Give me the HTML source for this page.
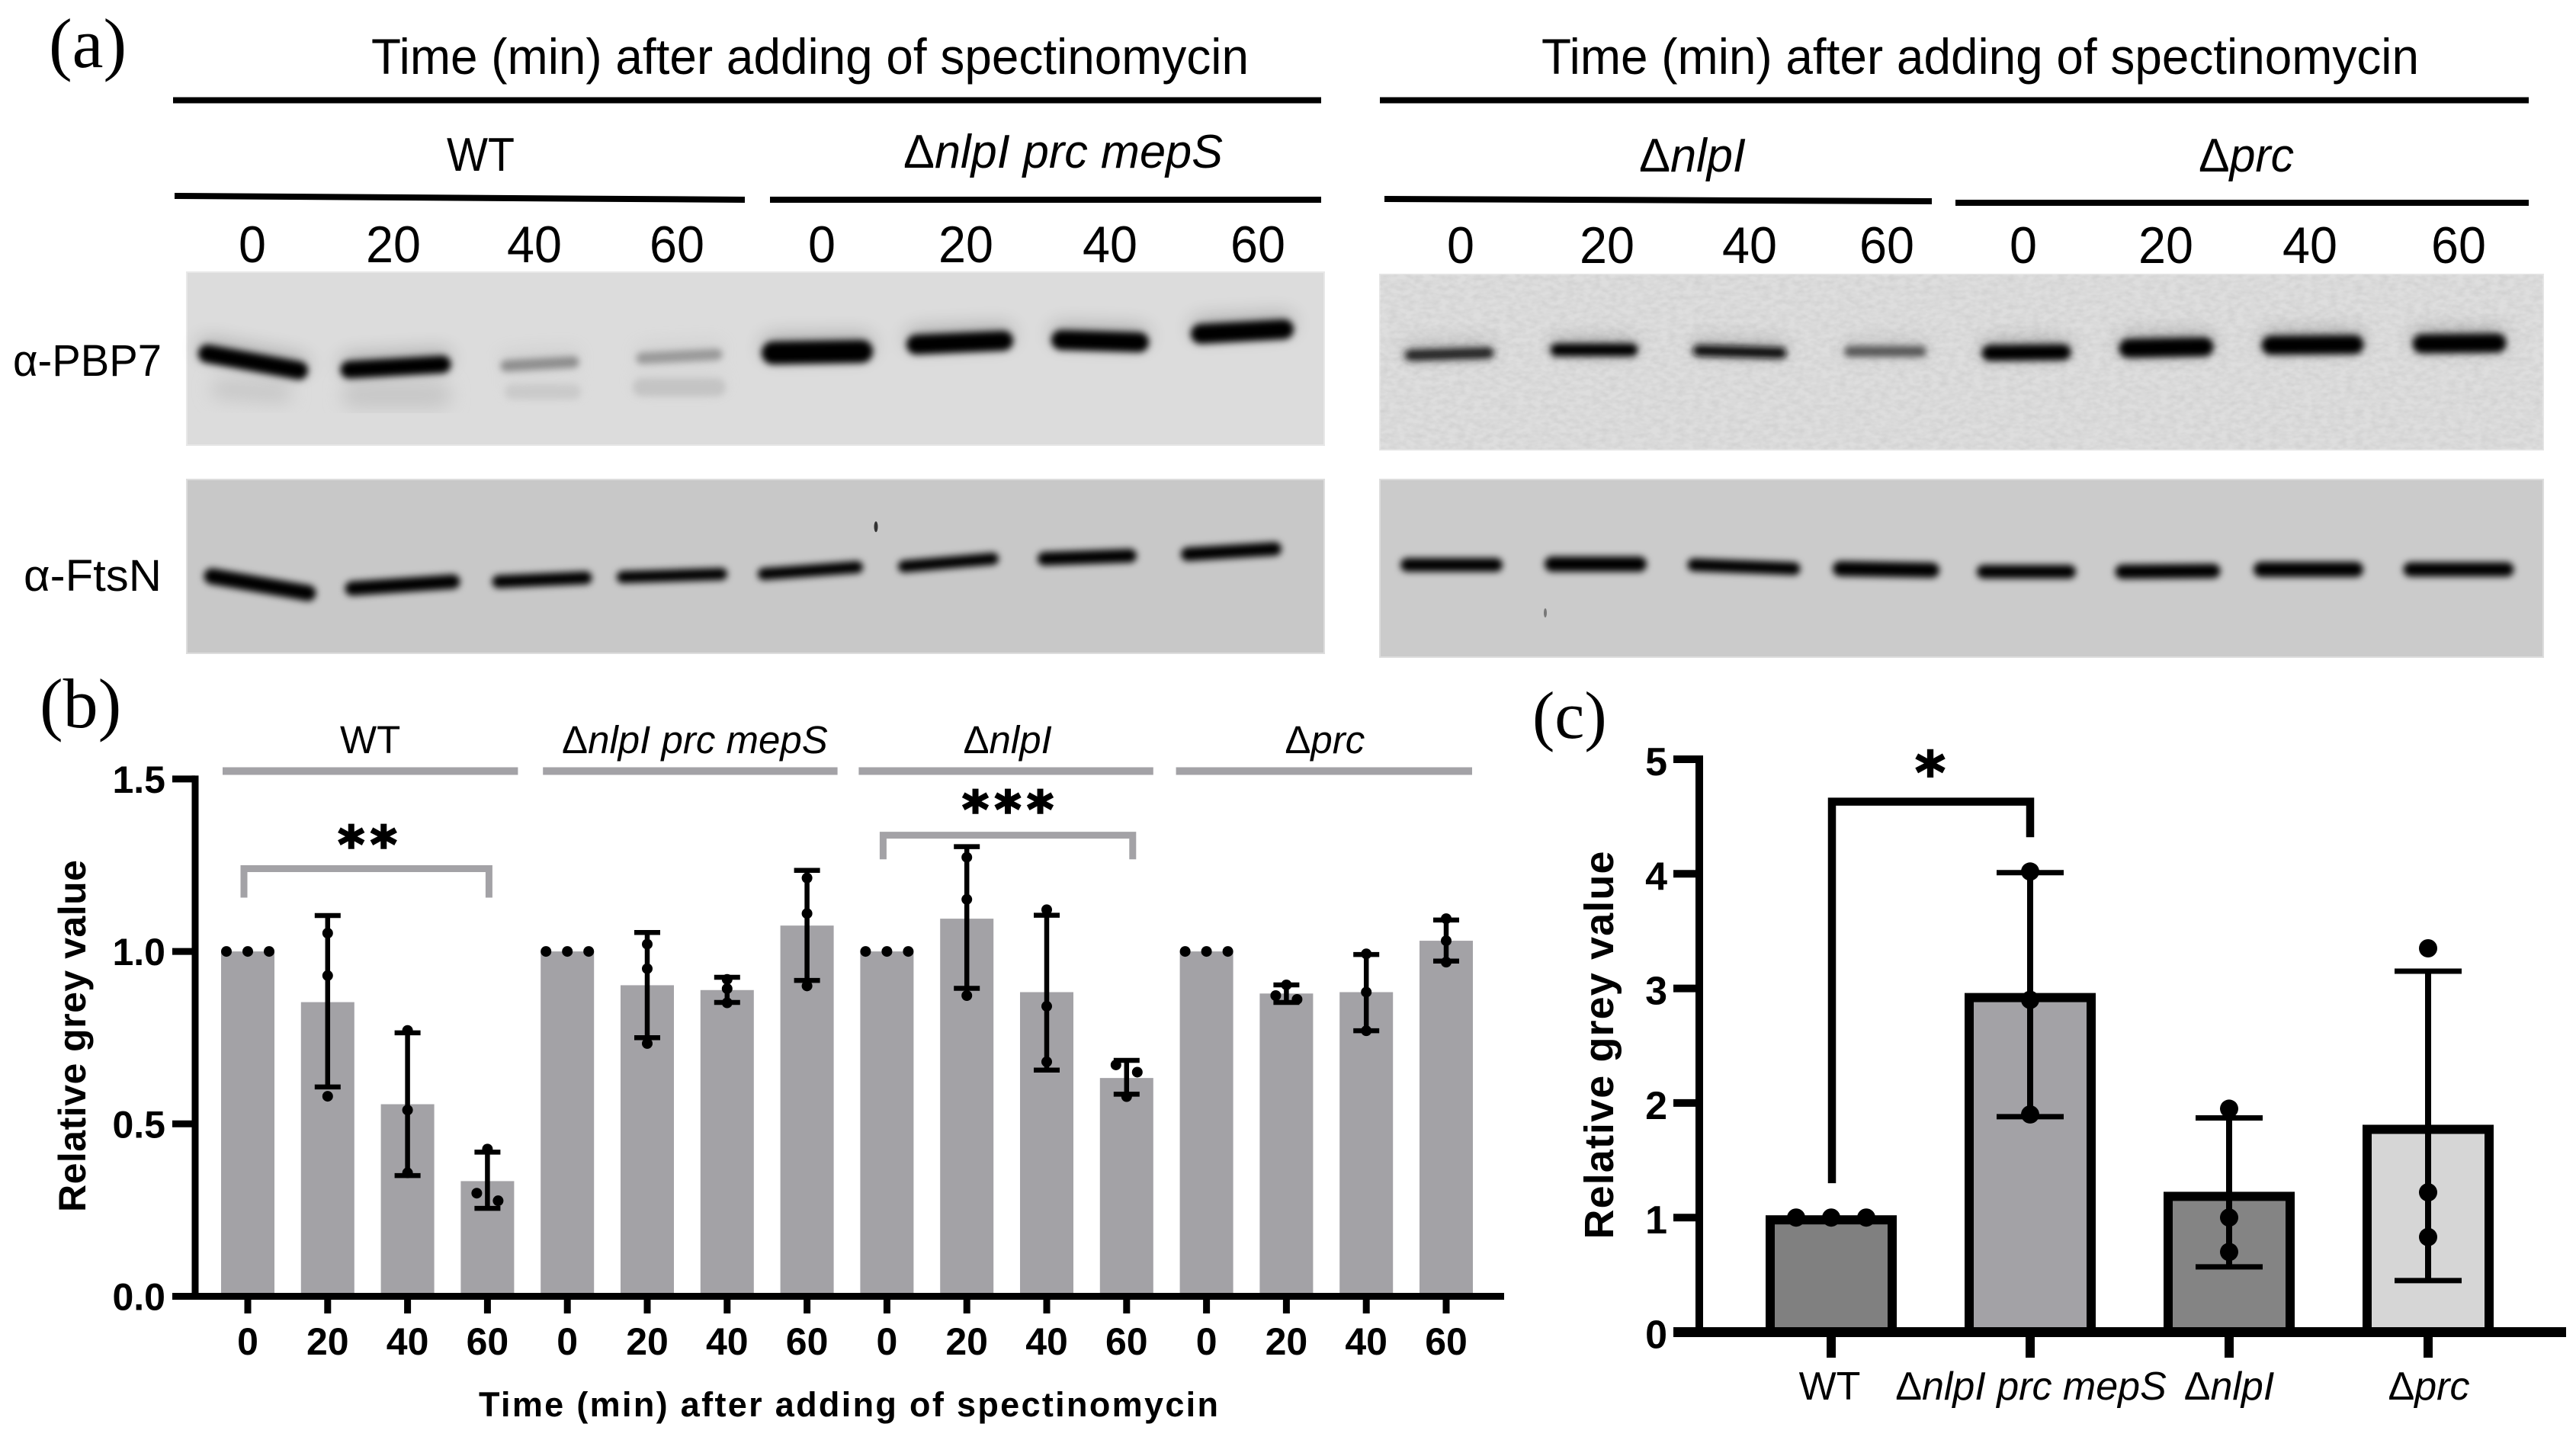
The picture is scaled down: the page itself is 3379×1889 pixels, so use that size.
<!DOCTYPE html>
<html lang="en">
<head>
<meta charset="utf-8">
<title>PBP7 stability after spectinomycin</title>
<style>
html,body{margin:0;padding:0;background:#fff;width:3379px;height:1889px;overflow:hidden}
svg{display:block}
text{font-family:"Liberation Sans",sans-serif;fill:#000}
.serif{font-family:"Liberation Serif",serif}
.b{font-weight:700}
.i{font-style:italic}
.rule{stroke:#000;stroke-width:8}
.band{fill:none;stroke-linecap:round}
</style>
</head>
<body>
<svg id="figure" xmlns="http://www.w3.org/2000/svg" width="3379" height="1889" viewBox="0 0 3379 1889">
<defs>
<filter id="blur" x="-20%" y="-200%" width="140%" height="500%"><feGaussianBlur stdDeviation="4.5"/></filter>
<filter id="haze" x="-20%" y="-300%" width="140%" height="700%"><feGaussianBlur stdDeviation="12"/></filter>
<filter id="grain" x="0" y="0" width="100%" height="100%"><feTurbulence type="fractalNoise" baseFrequency="0.09 0.16" numOctaves="2" seed="4"/><feColorMatrix values="0 0 0 0 0  0 0 0 0 0  0 0 0 0 0  0 0 0 0.1 -0.03"/></filter>
</defs>

<!-- Panel (a) -->
<g id="panel-a">
<text class="serif" x="64" y="88" font-size="92">(a)</text>

<text x="487" y="97" font-size="66" textLength="1151" lengthAdjust="spacingAndGlyphs">Time (min) after adding of spectinomycin</text>
<line class="rule" x1="227" y1="131.5" x2="1733" y2="131.5"/>
<text x="586" y="224" font-size="62" textLength="89" lengthAdjust="spacingAndGlyphs">WT</text>
<text x="1185" y="220" font-size="62" textLength="419" lengthAdjust="spacingAndGlyphs">Δ<tspan class="i">nlpI prc mepS</tspan></text>
<line class="rule" x1="229" y1="257" x2="977" y2="262"/>
<line class="rule" x1="1010" y1="262" x2="1733" y2="262"/>
<g font-size="68">
<text x="313" y="344" textLength="36" lengthAdjust="spacingAndGlyphs">0</text>
<text x="480" y="344" textLength="72" lengthAdjust="spacingAndGlyphs">20</text>
<text x="665" y="344" textLength="72" lengthAdjust="spacingAndGlyphs">40</text>
<text x="852" y="344" textLength="72" lengthAdjust="spacingAndGlyphs">60</text>
<text x="1060" y="344" textLength="36" lengthAdjust="spacingAndGlyphs">0</text>
<text x="1231" y="344" textLength="72" lengthAdjust="spacingAndGlyphs">20</text>
<text x="1420" y="344" textLength="72" lengthAdjust="spacingAndGlyphs">40</text>
<text x="1614" y="344" textLength="72" lengthAdjust="spacingAndGlyphs">60</text>
</g>

<text x="17" y="493" font-size="58" textLength="195" lengthAdjust="spacingAndGlyphs">α-PBP7</text>
<text x="31" y="775" font-size="58" textLength="181" lengthAdjust="spacingAndGlyphs">α-FtsN</text>

<rect x="245" y="357" width="1492" height="227" fill="#dcdcdc" stroke="#e8e8e8" stroke-width="2"/>
<g filter="url(#haze)" stroke="#c6c6c6">
<line class="band" stroke-width="26" x1="290" y1="510" x2="370" y2="515"/>
<line class="band" stroke-width="34" x1="465" y1="518" x2="575" y2="518"/>
</g>
<g id="pl" filter="url(#blur)" stroke="#000">
<line class="band" stroke-width="24" x1="272" y1="464" x2="392" y2="486"/>
<line class="band" stroke-width="23" x1="458" y1="485" x2="580" y2="478"/>
<line class="band" stroke-width="15" stroke="#8c8c8c" x1="664" y1="480" x2="752" y2="475"/>
<line class="band" stroke-width="20" stroke="#cacaca" x1="672" y1="514" x2="752" y2="514"/>
<line class="band" stroke-width="15" stroke="#989898" x1="842" y1="470" x2="940" y2="465"/>
<line class="band" stroke-width="24" stroke="#c4c4c4" x1="842" y1="508" x2="940" y2="508"/>
<line class="band" stroke-width="30" x1="1014" y1="463" x2="1130" y2="461"/>
<line class="band" stroke-width="26" x1="1202" y1="452" x2="1316" y2="447"/>
<line class="band" stroke-width="26" x1="1392" y1="446" x2="1494" y2="449"/>
<line class="band" stroke-width="26" x1="1575" y1="438" x2="1684" y2="432"/>
</g>
<g filter="url(#haze)" opacity="0.22" transform="translate(0,-8)"><use href="#pl"/></g>

<rect x="245" y="629" width="1492" height="228" fill="#c8c8c8" stroke="#dddddd" stroke-width="2"/>
<g filter="url(#blur)" stroke="#000">
<line class="band" stroke-width="21" x1="278" y1="756" x2="404" y2="778"/>
<line class="band" stroke-width="19" x1="462" y1="772" x2="594" y2="763"/>
<line class="band" stroke-width="17" x1="654" y1="763" x2="768" y2="758"/>
<line class="band" stroke-width="16" x1="817" y1="757" x2="946" y2="753"/>
<line class="band" stroke-width="16" x1="1002" y1="753" x2="1124" y2="744"/>
<line class="band" stroke-width="16" x1="1186" y1="743" x2="1302" y2="733"/>
<line class="band" stroke-width="18" x1="1370" y1="733" x2="1482" y2="729"/>
<line class="band" stroke-width="18" x1="1558" y1="727" x2="1672" y2="720"/>
</g>
<ellipse cx="1149" cy="691" rx="2.5" ry="7" fill="#333"/>

<text x="2022" y="97" font-size="66" textLength="1151" lengthAdjust="spacingAndGlyphs">Time (min) after adding of spectinomycin</text>
<line class="rule" x1="1810" y1="131.5" x2="3317" y2="131.5"/>
<text x="2150" y="225" font-size="62" textLength="140" lengthAdjust="spacingAndGlyphs">Δ<tspan class="i">nlpI</tspan></text>
<text x="2884" y="225" font-size="62" textLength="125" lengthAdjust="spacingAndGlyphs">Δ<tspan class="i">prc</tspan></text>
<line class="rule" x1="1816" y1="261" x2="2534" y2="264"/>
<line class="rule" x1="2565" y1="266" x2="3317" y2="266"/>
<g font-size="68">
<text x="1898" y="345" textLength="36" lengthAdjust="spacingAndGlyphs">0</text>
<text x="2072" y="345" textLength="72" lengthAdjust="spacingAndGlyphs">20</text>
<text x="2259" y="345" textLength="72" lengthAdjust="spacingAndGlyphs">40</text>
<text x="2439" y="345" textLength="72" lengthAdjust="spacingAndGlyphs">60</text>
<text x="2636" y="345" textLength="36" lengthAdjust="spacingAndGlyphs">0</text>
<text x="2805" y="345" textLength="72" lengthAdjust="spacingAndGlyphs">20</text>
<text x="2994" y="345" textLength="72" lengthAdjust="spacingAndGlyphs">40</text>
<text x="3189" y="345" textLength="72" lengthAdjust="spacingAndGlyphs">60</text>
</g>

<rect x="1810" y="360" width="1526" height="230" fill="#dedede" stroke="#e6e6e6" stroke-width="2"/>
<rect x="1810" y="360" width="1526" height="230" filter="url(#grain)"/>
<g id="pr" filter="url(#blur)" stroke="#000">
<line class="band" stroke-width="15" stroke="#222" x1="1850" y1="466" x2="1952" y2="463"/>
<line class="band" stroke-width="17" x1="2042" y1="459" x2="2140" y2="459"/>
<line class="band" stroke-width="15" stroke="#111" x1="2228" y1="460" x2="2336" y2="463"/>
<line class="band" stroke-width="14" stroke="#555" x1="2426" y1="461" x2="2520" y2="461"/>
<line class="band" stroke-width="21" x1="2610" y1="463" x2="2706" y2="462"/>
<line class="band" stroke-width="25" x1="2792" y1="457" x2="2891" y2="455"/>
<line class="band" stroke-width="25" x1="2979" y1="453" x2="3088" y2="452"/>
<line class="band" stroke-width="25" x1="3177" y1="451" x2="3275" y2="450"/>
</g>
<g filter="url(#haze)" opacity="0.24" transform="translate(0,-6)"><use href="#pr"/></g>

<rect x="1810" y="629" width="1526" height="233" fill="#cbcbcb" stroke="#dddddd" stroke-width="2"/>
<g filter="url(#blur)" stroke="#000">
<line class="band" stroke-width="18" x1="1846" y1="741" x2="1962" y2="741"/>
<line class="band" stroke-width="20" x1="2036" y1="740" x2="2150" y2="740"/>
<line class="band" stroke-width="17" x1="2222" y1="741" x2="2353" y2="746"/>
<line class="band" stroke-width="20" x1="2414" y1="746" x2="2534" y2="748"/>
<line class="band" stroke-width="18" x1="2602" y1="750" x2="2714" y2="750"/>
<line class="band" stroke-width="19" x1="2784" y1="750" x2="2903" y2="749"/>
<line class="band" stroke-width="20" x1="2966" y1="747" x2="3090" y2="747"/>
<line class="band" stroke-width="19" x1="3162" y1="747" x2="3288" y2="747"/>
</g>
<ellipse cx="2027" cy="804" rx="2" ry="6" fill="#777"/>
</g>

<!-- Panel (b) -->
<g id="panel-b">
<text class="serif" x="52" y="954" font-size="92">(b)</text>
<text class="b" transform="translate(112,1359) rotate(-90)" font-size="50" text-anchor="middle" textLength="462">Relative grey value</text>
<text class="b" x="628" y="1858" font-size="45" textLength="970">Time (min) after adding of spectinomycin</text>
<g id="b-marks"></g>
</g>

<!-- Panel (c) -->
<g id="panel-c">
<text class="serif" x="2010" y="968" font-size="88">(c)</text>
<text class="b" transform="translate(2116,1371) rotate(-90)" font-size="54" text-anchor="middle" textLength="509">Relative grey value</text>
<g id="c-marks"></g>
</g>
</svg>

<script>
// ---- Panel (b) data ----
const groupNamesB = ['', 'nlpI prc mepS', 'nlpI', 'prc'];
const timeLabelsB = ['0', '20', '40', '60'];
const yTickValuesB = [0, 0.5, 1.0, 1.5];
const yTickLabelsB = ['0.0', '0.5', '1.0', '1.5'];
const barValuesB = [1.0, 0.853, 0.557, 0.334, 1.0, 0.902, 0.888, 1.075, 1.0, 1.095, 0.882, 0.633, 1.0, 0.878, 0.882, 1.031];
const errorUpperB = [1.0, 1.104, 0.764, 0.418, 1.0, 1.055, 0.925, 1.235, 1.0, 1.304, 1.105, 0.684, 1.0, 0.903, 0.991, 1.091];
const errorLowerB = [1.0, 0.607, 0.35, 0.255, 1.0, 0.75, 0.852, 0.916, 1.0, 0.893, 0.656, 0.586, 1.0, 0.852, 0.77, 0.972];
const pointsB = [
  [1, 1, 1], [1.053, 0.93, 0.58], [0.771, 0.54, 0.358], [0.427, 0.299, 0.277],
  [1, 1, 1], [1.021, 0.95, 0.733], [0.919, 0.892, 0.851], [1.213, 1.11, 0.9],
  [1, 1, 1], [1.273, 1.151, 0.872], [1.121, 0.841, 0.68], [0.671, 0.65, 0.579],
  [1, 1, 1], [0.903, 0.872, 0.861], [0.993, 0.882, 0.77], [1.095, 1.031, 0.969]
];

// ---- Panel (c) data ----
const categoriesC = ['WT', 'nlpI prc mepS', 'nlpI', 'prc'];
const yTickLabelsC = ['0', '1', '2', '3', '4', '5'];
const yTickValuesC = [0, 1, 2, 3, 4, 5];
const barValuesC = [0.98, 2.92, 1.185, 1.77];
const errorUpperC = [1.0, 4.01, 1.87, 3.15];
const errorLowerC = [1.0, 1.88, 0.57, 0.45];
const pointsC = [[1, 1, 1], [4.02, 2.9, 1.9], [1.95, 1.0, 0.7], [3.35, 1.22, 0.83]];
const barFillsC = ['#808080', '#a3a2a6', '#848484', '#d6d6d6'];

const NS = 'http://www.w3.org/2000/svg';
function mk(parent, tag, attrs, text) {
  const el = document.createElementNS(NS, tag);
  for (const k in attrs) el.setAttribute(k, attrs[k]);
  if (text !== undefined) el.textContent = text;
  parent.appendChild(el);
  return el;
}
function dodge(vals, tight, wide) {
  const offs = vals.map(() => 0);
  const order = vals.map((v, i) => i).sort((a, b) => vals[b] - vals[a]);
  let s = 0;
  while (s < order.length) {
    let e = s;
    while (e + 1 < order.length && vals[order[e]] - vals[order[e + 1]] < 0.025) e++;
    const n = e - s + 1;
    if (n === 2) { offs[order[s]] = -tight; offs[order[e]] = tight; }
    if (n === 3) { offs[order[s]] = -wide; offs[order[s + 2]] = wide; }
    s = e + 1;
  }
  return offs;
}

// ---- Panel (b) drawing ----
const gB = document.getElementById('b-marks');
const xB = i => 325 + 104.8 * i;
const yB = v => 1700.5 - 452.4 * v;
const GREY = '#a3a2a6';

barValuesB.forEach((v, i) => {
  const bar = mk(gB, 'rect', {x: xB(i) - 35, y: yB(v), width: 70, height: yB(0) - yB(v), fill: GREY});
  
  
});
barValuesB.forEach((v, i) => {
  if (errorUpperB[i] !== errorLowerB[i]) {
    const stem = mk(gB, 'line', {x1: xB(i), x2: xB(i), y1: yB(errorUpperB[i]), y2: yB(errorLowerB[i]), stroke: '#000', 'stroke-width': 6.5});
    
    
    [errorUpperB[i], errorLowerB[i]].forEach(e => {
      const cap = mk(gB, 'line', {x1: xB(i) - 17, x2: xB(i) + 17, y1: yB(e), y2: yB(e), stroke: '#000', 'stroke-width': 6.5});
      
      
    });
  }
  const offs = dodge(pointsB[i], 14, 28);
  pointsB[i].forEach((p, j) => {
    const dot = mk(gB, 'circle', {cx: xB(i) + offs[j], cy: yB(p), r: 7, fill: '#000'});
    
    
  });
});
// axes b
const axisYB = mk(gB, 'line', {x1: 256, x2: 256, y1: yB(1.5) - 4.5, y2: yB(0) + 4.5, stroke: '#000', 'stroke-width': 9});


const axisXB = mk(gB, 'line', {x1: 226, x2: 1973, y1: yB(0), y2: yB(0), stroke: '#000', 'stroke-width': 9});


yTickValuesB.forEach((v, i) => {
  const tick = mk(gB, 'line', {x1: 226, x2: 256, y1: yB(v), y2: yB(v), stroke: '#000', 'stroke-width': 9});
  
  
  const label = mk(gB, 'text', {x: 217, y: yB(v) + 18, 'font-size': 50, 'font-weight': 700, 'text-anchor': 'end'}, yTickLabelsB[i]);
  
  
});
barValuesB.forEach((v, i) => {
  const tick = mk(gB, 'line', {x1: xB(i), x2: xB(i), y1: yB(0), y2: 1723, stroke: '#000', 'stroke-width': 9});
  
  
  const label = mk(gB, 'text', {x: xB(i), y: 1777, 'font-size': 50, 'font-weight': 700, 'text-anchor': 'middle'}, timeLabelsB[i % 4]);
  
  
});
// group headers b
const ruleLeftInsetB = [33, 32, 37, 40];
const ruleRightInsetB = [40, 40, 35, 34];
const labelShiftB = [0, 6, 2, 1];
groupNamesB.forEach((name, g) => {
  const left = xB(g * 4) - ruleLeftInsetB[g];
  const right = xB(g * 4 + 3) + ruleRightInsetB[g];
  const rule = mk(gB, 'line', {x1: left, x2: right, y1: 1011.5, y2: 1011.5, stroke: GREY, 'stroke-width': 10});
  
  
  const label = mk(gB, 'text', {x: (left + right) / 2 + labelShiftB[g], y: 988, 'font-size': 51, 'text-anchor': 'middle'});
  
  
  if (g === 0) {
    label.textContent = 'WT';
  } else {
    mk(label, 'tspan', {}, 'Δ');
    mk(label, 'tspan', {'font-style': 'italic'}, name);
  }
});
// significance brackets b
const br1 = mk(gB, 'path', {d: `M${xB(0) - 5} ${yB(1.156)} V${yB(1.24)} H${xB(3) + 2} V${yB(1.156)}`, fill: 'none', stroke: GREY, 'stroke-width': 9});


const star1 = mk(gB, 'text', {x: 486, y: 1131, 'font-size': 66, 'font-weight': 700, 'text-anchor': 'middle', 'letter-spacing': 8, stroke: '#000', 'stroke-width': 2.5, style: 'font-family:"DejaVu Sans",sans-serif'}, '**');


const br2 = mk(gB, 'path', {d: `M${xB(8) - 5} ${yB(1.267)} V${yB(1.337)} H${xB(11) + 8} V${yB(1.267)}`, fill: 'none', stroke: GREY, 'stroke-width': 9});


const star2 = mk(gB, 'text', {x: 1326, y: 1085, 'font-size': 66, 'font-weight': 700, 'text-anchor': 'middle', 'letter-spacing': 8, stroke: '#000', 'stroke-width': 2.5, style: 'font-family:"DejaVu Sans",sans-serif'}, '***');



// ---- Panel (c) drawing ----
const gC = document.getElementById('c-marks');
const xC = i => 2402 + 261 * i;
const yC = v => 1747.5 - 150.3 * v;

barValuesC.forEach((v, i) => {
  const bar = mk(gC, 'rect', {x: xC(i) - 80, y: yC(v), width: 160, height: yC(0) - yC(v), fill: barFillsC[i], stroke: '#000', 'stroke-width': 12});
  
  
});
barValuesC.forEach((v, i) => {
  if (errorUpperC[i] !== errorLowerC[i]) {
    const stem = mk(gC, 'line', {x1: xC(i), x2: xC(i), y1: yC(errorUpperC[i]), y2: yC(errorLowerC[i]), stroke: '#000', 'stroke-width': 8});
    
    
    [errorUpperC[i], errorLowerC[i]].forEach(e => {
      const cap = mk(gC, 'line', {x1: xC(i) - 44, x2: xC(i) + 44, y1: yC(e), y2: yC(e), stroke: '#000', 'stroke-width': 7});
      
      
    });
  }
  const offs = dodge(pointsC[i], 23, 46);
  pointsC[i].forEach((p, j) => {
    const dot = mk(gC, 'circle', {cx: xC(i) + offs[j], cy: yC(p), r: 12, fill: '#000'});
    
    
  });
});
const axisYC = mk(gC, 'line', {x1: 2229, x2: 2229, y1: yC(5) - 5, y2: yC(0) + 5, stroke: '#000', 'stroke-width': 10});


const axisXC = mk(gC, 'line', {x1: 2195, x2: 3366, y1: yC(0), y2: yC(0), stroke: '#000', 'stroke-width': 13});


yTickValuesC.forEach((v, i) => {
  const tick = mk(gC, 'line', {x1: 2195, x2: 2229, y1: yC(v), y2: yC(v), stroke: '#000', 'stroke-width': 10});
  
  
  const label = mk(gC, 'text', {x: 2187, y: yC(v) + 21, 'font-size': 52, 'font-weight': 700, 'text-anchor': 'end'}, yTickLabelsC[i]);
  
  
});
categoriesC.forEach((name, i) => {
  const tick = mk(gC, 'line', {x1: xC(i), x2: xC(i), y1: yC(0), y2: 1781, stroke: '#000', 'stroke-width': 12});
  
  
  const label = mk(gC, 'text', {x: i === 1 ? 2664 : (i === 2 ? 2924 : (i === 3 ? 3186 : 2400)), y: 1836, 'font-size': 52, 'text-anchor': 'middle'});
  
  
  if (i === 0) {
    label.textContent = name;
  } else {
    mk(label, 'tspan', {}, 'Δ');
    mk(label, 'tspan', {'font-style': 'italic'}, name);
  }
});
const brC = mk(gC, 'path', {d: `M${xC(0) + 1} ${yC(1.3)} V${yC(4.63)} H${xC(1)} V${yC(4.32)}`, fill: 'none', stroke: '#000', 'stroke-width': 10.5});


const starC = mk(gC, 'text', {x: 2532, y: 1040, 'font-size': 76, 'font-weight': 700, 'text-anchor': 'middle', stroke: '#000', 'stroke-width': 2, style: 'font-family:"DejaVu Sans",sans-serif'}, '*');


</script>
</body>
</html>
